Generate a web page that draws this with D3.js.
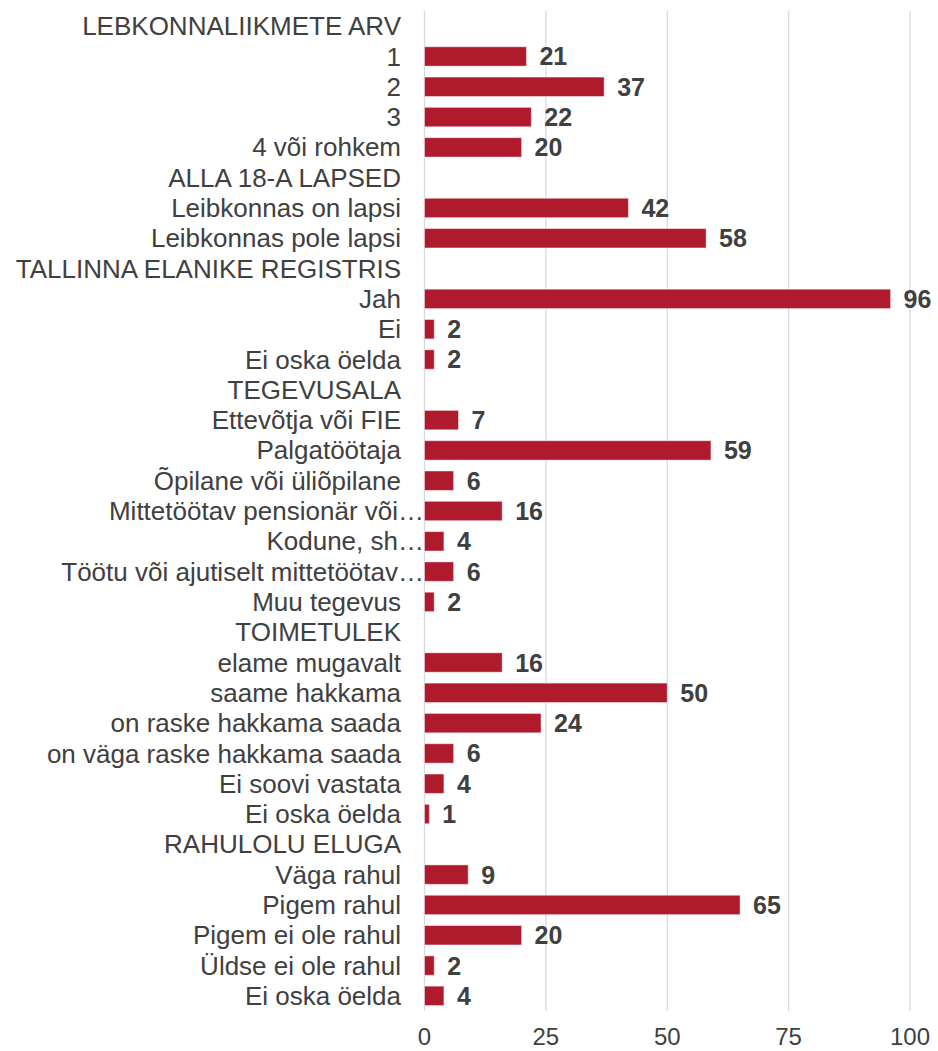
<!DOCTYPE html>
<html>
<head>
<meta charset="utf-8">
<script src="https://cdn.jsdelivr.net/npm/d3@7/dist/d3.min.js"></script>
<style>
  body { margin: 0; background: #fff; }
  #chart text { font-family: "Liberation Sans", Arial, sans-serif; }
</style>
</head>
<body>
<div id="chart"></div>
<script>
// row labels, top to bottom (group headers have no value)
var categories = [
    "LEBKONNALIIKMETE ARV",
    "1",
    "2",
    "3",
    "4 või rohkem",
    "ALLA 18-A LAPSED",
    "Leibkonnas on lapsi",
    "Leibkonnas pole lapsi",
    "TALLINNA ELANIKE REGISTRIS",
    "Jah",
    "Ei",
    "Ei oska öelda",
    "TEGEVUSALA",
    "Ettevõtja või FIE",
    "Palgatöötaja",
    "Õpilane või üliõpilane",
    "Mittetöötav pensionär või…",
    "Kodune, sh…",
    "Töötu või ajutiselt mittetöötav…",
    "Muu tegevus",
    "TOIMETULEK",
    "elame mugavalt",
    "saame hakkama",
    "on raske hakkama saada",
    "on väga raske hakkama saada",
    "Ei soovi vastata",
    "Ei oska öelda",
    "RAHULOLU ELUGA",
    "Väga rahul",
    "Pigem rahul",
    "Pigem ei ole rahul",
    "Üldse ei ole rahul",
    "Ei oska öelda"
];

var values = [
    null, 21, 37, 22, 20,
    null, 42, 58,
    null, 96, 2, 2,
    null, 7, 59, 6, 16, 4, 6, 2,
    null, 16, 50, 24, 6, 4, 1,
    null, 9, 65, 20, 2, 4
];

var ticks = [0, 25, 50, 75, 100];

var barColor = "#B01A2D";
var textColor = "#404040";

function barChart(id) {
    var W = 938, H = 1051;
    var left = 424.5, right = 910, top = 11, bottom = 1011;

    var rows = categories.map(function(d, i) {
        return { idx: i, label: d, value: values[i] };
    });

    var svg = d3.select(id).append("svg")
        .attr("width", W).attr("height", H);

    var x = d3.scaleLinear().domain([0, 100]).range([left, right]);
    var y = d3.scaleBand().domain(d3.range(rows.length))
        .range([top, bottom]).paddingInner(0.36).paddingOuter(0.18);

    // gridlines
    svg.append("g").selectAll("line").data(ticks).enter().append("line")
        .attr("x1", function(d) { return x(d); })
        .attr("x2", function(d) { return x(d); })
        .attr("y1", top).attr("y2", bottom)
        .attr("stroke", "#d9d9d9").attr("stroke-width", 1.3);

    // tick labels
    svg.append("g").selectAll("text").data(ticks).enter().append("text")
        .attr("x", function(d) { return x(d); })
        .attr("y", 1045)
        .attr("text-anchor", "middle")
        .attr("font-size", "24px")
        .attr("fill", textColor)
        .text(function(d) { return d; });

    function mid(i) { return y(i) + y.bandwidth() / 2; }

    // category labels (truncated ones run up to the axis, like excel does)
    svg.append("g").selectAll("text").data(rows).enter().append("text")
        .attr("x", function(d) { return d.label.slice(-1) == "…" ? 424 : 401; })
        .attr("y", function(d) { return mid(d.idx); })
        .attr("dy", "0.35em")
        .attr("text-anchor", "end")
        .attr("font-size", "26px")
        .attr("fill", textColor)
        .text(function(d) { return d.label; });

    var withVal = rows.filter(function(d) { return d.value != null; });

    // bars
    svg.append("g").selectAll("rect").data(withVal).enter().append("rect")
        .attr("x", x(0))
        .attr("y", function(d) { return y(d.idx); })
        .attr("width", function(d) { return x(d.value) - x(0); })
        .attr("height", y.bandwidth())
        .attr("fill", barColor)
        .attr("stroke", "rgba(255,255,255,0.45)")
        .attr("stroke-width", 1);

    // value labels
    svg.append("g").selectAll("text").data(withVal).enter().append("text")
        .attr("x", function(d) { return x(d.value) + 13; })
        .attr("y", function(d) { return mid(d.idx); })
        .attr("dy", "0.36em")
        .attr("font-size", "25px")
        .attr("font-weight", "bold")
        .attr("fill", textColor)
        .text(function(d) { return d.value; });
}

barChart("#chart");
</script>
</body>
</html>
